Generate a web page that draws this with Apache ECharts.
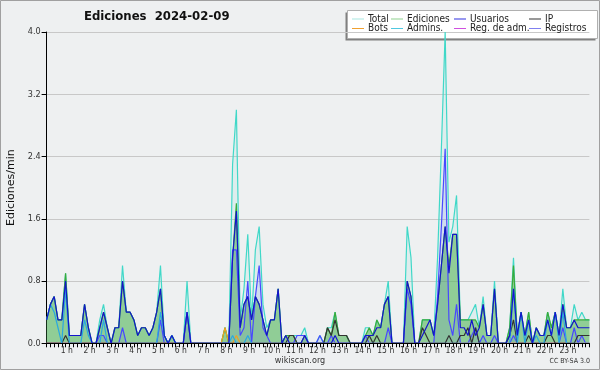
<!DOCTYPE html>
<html>
<head>
<meta charset="utf-8">
<script src="https://cdn.jsdelivr.net/npm/echarts@6/dist/echarts.min.js"></script>
<style>
  html, body { margin: 0; padding: 0; background: #eef0f1; }
  #chart { width: 600px; height: 370px; }
</style>
</head>
<body>
<div id="chart"></div>
<script>
// tick labels for the hours (one every 6 points of 10 min)
var hourLabels = ['1 h','2 h','3 h','4 h','5 h','6 h','7 h','8 h','9 h','10 h','11 h','12 h',
                  '13 h','14 h','15 h','16 h','17 h','18 h','19 h','20 h','21 h','22 h','23 h'];

// edits per minute, one value per 10 minutes (144 points)
var total = [
  .3,.5,.6,.3,.3,.9,.1,.1,.1,.1,.5,.2,
  0,0,.3,.5,.2,0,.2,.2,1.0,.4,.4,.3,
  .1,.2,.2,.1,.2,.4,1.0,.1,0,.1,0,0,
  0,.8,0,0,0,0,0,0,0,0,0,.2,
  0,2.3,3.0,.3,.7,1.4,.3,1.2,1.5,.5,.2,.3,
  .3,.7,0,.1,.1,.1,.1,.1,.2,0,0,0,
  .1,0,.2,.2,.4,.1,.1,.1,0,0,0,0,
  .2,.2,.1,.3,.2,.5,.8,0,0,0,0,1.5,
  1.1,0,0,.3,.3,.3,.1,1.1,2.5,4.0,1.3,1.5,
  1.9,.3,.3,.3,.4,.5,.2,.6,.1,.1,.8,0,
  0,0,.2,1.1,.1,.4,.1,.4,0,.2,.1,.1,
  .4,.2,.4,.1,.7,.2,.2,.5,.3,.4,.3,.3
];
var ediciones = [
  .3,.5,.6,.3,.3,.9,.1,.1,.1,.1,.5,.2,
  0,0,.2,.4,.2,0,.2,.2,.8,.4,.4,.3,
  .1,.2,.2,.1,.2,.4,.7,.1,0,.1,0,0,
  0,.4,0,0,0,0,0,0,0,0,0,.2,
  0,1.1,1.8,.2,.5,.6,.3,.6,.5,.3,.1,.3,
  .3,.7,0,.1,.1,.1,0,0,.1,0,0,0,
  0,0,.2,.1,.4,.1,.1,.1,0,0,0,0,
  .1,.2,.1,.3,.2,.5,.6,0,0,0,0,.8,
  .6,0,0,.3,.3,.3,.1,.5,1.0,1.5,1.0,1.4,
  1.4,.3,.3,.3,.3,.3,.2,.5,.1,.1,.7,0,
  0,0,.2,1.0,.1,.4,.1,.4,0,.2,.1,.1,
  .4,.2,.4,.1,.5,.2,.2,.3,.3,.3,.3,.3
];
var usuarios = [
  .3,.5,.6,.3,.3,.8,.1,.1,.1,.1,.5,.2,
  0,0,.2,.4,.2,0,.2,.2,.8,.4,.4,.3,
  .1,.2,.2,.1,.2,.4,.7,.1,0,.1,0,0,
  0,.4,0,0,0,0,0,0,0,0,0,0,
  0,1.1,1.7,.2,.5,.6,.3,.6,.5,.3,.1,.3,
  .3,.7,0,.1,0,0,0,0,.1,0,0,0,
  0,0,0,0,.1,0,0,0,0,0,0,0,
  .1,.1,.1,.2,.2,.5,.6,0,0,0,0,.8,
  .6,0,0,.1,.2,.3,.1,.5,1.0,1.5,.9,1.4,
  1.4,.2,.2,.1,.3,.1,.2,.5,.1,.1,.7,0,
  0,0,.1,.7,.1,.4,.1,.3,0,.2,.1,.1,
  .3,.1,.4,.1,.5,.2,.2,.3,.2,.2,.2,.2
];
var ip = [
  0,0,0,0,0,.1,0,0,0,0,0,0,
  0,0,0,0,0,0,0,0,0,0,0,0,
  0,0,0,0,0,0,0,0,0,0,0,0,
  0,0,0,0,0,0,0,0,0,0,0,0,
  0,0,0,0,0,0,0,0,0,0,0,0,
  0,0,0,0,.1,.1,0,0,0,0,0,0,
  0,0,.2,.1,.3,.1,.1,.1,0,0,0,0,
  0,.1,0,.1,0,0,0,0,0,0,0,0,
  0,0,0,.2,.1,0,0,0,0,0,.1,0,
  0,.1,.1,.2,0,.2,0,0,0,0,0,0,
  0,0,.1,.3,0,0,0,.1,0,0,0,0,
  .1,.1,0,0,0,0,0,0,.1,.1,.1,.1
];
var bots = [
  0,0,0,0,0,0,0,0,0,0,0,0,
  0,0,0,0,0,0,0,0,0,0,0,0,
  0,0,0,0,0,0,0,0,0,0,0,0,
  0,0,0,0,0,0,0,0,0,0,0,.2,
  0,0,.1,0,0,0,0,0,0,0,0,0,
  0,0,0,0,0,0,0,0,0,0,0,0,
  0,0,0,0,0,0,0,0,0,0,0,0,
  0,0,0,0,0,0,0,0,0,0,0,0,
  0,0,0,0,0,0,0,0,0,0,0,0,
  0,0,0,0,0,0,0,0,0,0,0,0,
  0,0,0,0,0,0,0,0,0,0,0,0,
  0,0,0,0,0,0,0,0,0,0,0,0
];
var admins = [
  .3,.5,.4,.2,0,.7,0,0,0,0,.3,.1,
  0,0,0,.3,0,0,0,0,0,0,0,0,
  0,0,0,0,0,0,.4,.1,0,.1,0,0,
  0,0,0,0,0,0,0,0,0,0,0,0,
  0,.1,0,0,0,.1,0,0,0,0,0,0,
  0,0,0,0,0,0,0,0,0,0,0,0,
  0,0,0,0,0,0,0,0,0,0,0,0,
  0,0,0,0,0,0,0,0,0,0,0,0,
  0,0,0,0,0,0,0,0,0,0,0,0,
  0,0,0,0,0,0,0,0,0,0,0,0,
  0,0,0,.7,0,.4,0,.3,0,.1,0,0,
  .3,.1,.4,0,.4,0,0,0,0,0,0,0
];
var regAdm = [
  0,0,0,0,0,0,0,0,0,0,0,0,
  0,0,0,0,0,0,0,0,0,0,0,0,
  0,0,0,0,0,0,0,0,0,0,0,0,
  0,0,0,0,0,0,0,0,0,0,0,0,
  0,0,0,0,0,0,0,0,0,0,0,0,
  0,0,0,0,0,0,0,0,0,0,0,0,
  0,0,0,0,0,0,0,0,0,0,0,0,
  0,0,0,0,0,0,0,0,0,0,0,0,
  0,0,0,0,0,0,0,0,0,0,0,0,
  0,0,0,0,0,0,0,0,0,0,0,0,
  0,0,0,0,0,0,0,0,0,0,0,0,
  0,0,0,0,0,0,0,0,0,0,0,0
];
var registros = [
  0,0,0,0,0,0,0,0,0,0,0,0,
  0,0,.1,.1,0,0,0,0,.2,0,0,0,
  0,0,0,0,0,0,.3,0,0,0,0,0,
  0,.4,0,0,0,0,0,0,0,0,0,0,
  0,1.2,1.2,.1,.2,.8,0,.6,1.0,.2,.1,0,
  0,0,0,0,0,0,.1,.1,.1,0,0,0,
  .1,0,0,.1,0,0,0,0,0,0,0,0,
  .1,0,0,0,0,0,.2,0,0,0,0,.7,
  .5,0,0,0,0,0,0,.6,1.5,2.5,.3,.1,
  .5,0,0,0,.1,.2,0,.1,0,0,.1,0,
  0,0,0,.1,0,0,0,0,0,0,0,0,
  0,0,0,0,.2,0,0,.2,0,.1,0,0
];

var font = "'DejaVu Sans Condensed', 'DejaVu Sans', sans-serif";

// one category per 10 minutes
var times = [];
for (var i = 0; i < total.length; i++) {
    var h = Math.floor(i / 6), m = (i % 6) * 10;
    times.push((h < 10 ? '0' : '') + h + ':' + (m < 10 ? '0' : '') + m);
}

function lineSeries(name, data, color, extra) {
    var s = {
        name: name,
        type: 'line',
        data: data,
        showSymbol: false,
        symbol: 'none',
        lineStyle: { color: color, width: 1.2 },
        itemStyle: { color: color }
    };
    for (var k in extra) s[k] = extra[k];
    return s;
}

// legend: one small legend per cell, 4 columns x 2 rows
var legendCells = [
    ['Total', 352, 14, '#a8e6e0'],
    ['Ediciones', 391, 14, '#8fd08f'],
    ['Usuarios', 454, 14, '#3030e0'],
    ['IP', 529, 14, '#333333'],
    ['Bots', 352, 23.5, '#f0a030'],
    ['Admins.', 391, 23.5, '#50c8e0'],
    ['Reg. de adm.', 454, 23.5, '#d050e0'],
    ['Registros', 529, 23.5, '#8080f0']
];
var legends = legendCells.map(function(c) {
    return {
        left: c[1], top: c[2],
        icon: 'rect', itemWidth: 12, itemHeight: 1, itemGap: 0,
        padding: 0, selectedMode: false,
        data: [{ name: c[0], itemStyle: { color: c[3] } }],
        textStyle: { fontFamily: font, fontSize: 10, color: '#222', lineHeight: 10, padding: [0, 0, 0, -1] }
    };
});

var chart = echarts.init(document.getElementById('chart'), null, { renderer: 'canvas' });
var option = {
    animation: false,
    backgroundColor: '#eef0f1',
    title: {
        text: 'Ediciones  2024-02-09',
        left: 84, top: 10, padding: 0,
        textStyle: { fontFamily: font, fontSize: 13, fontWeight: 'bold', color: '#111' }
    },
    legend: legends,
    grid: { left: 46.6, right: 10.6, top: 32, bottom: 26.7, containLabel: false, outerBoundsMode: 'none' },
    xAxis: {
        type: 'category',
        data: times,
        boundaryGap: false,
        z: 10,
        axisLine: { lineStyle: { color: '#000', width: 1 } },
        axisTick: { interval: 0, length: 4, lineStyle: { color: '#000' } },
        axisLabel: {
            interval: function(index) { return index > 0 && index % 6 === 0; },
            formatter: function(value, index) { return hourLabels[index / 6 - 1]; },
            fontFamily: font, fontSize: 8.5, color: '#333', margin: 3,
            padding: [0, 5, 0, 0]
        },
        splitLine: { show: false }
    },
    yAxis: {
        type: 'value',
        min: 0, max: 4, interval: 0.8,
        name: 'Ediciones/min',
        nameLocation: 'middle',
        nameGap: 30,
        nameTextStyle: { fontFamily: 'DejaVu Sans', fontSize: 11, color: '#111' },
        axisLine: { show: true, lineStyle: { color: '#000' } },
        axisTick: { show: true, length: 5, lineStyle: { color: '#000' } },
        axisLabel: {
            formatter: function(v) { return v.toFixed(1); },
            fontFamily: font, fontSize: 9, color: '#333', margin: 6
        },
        splitLine: { lineStyle: { color: '#c8c8c8', width: 1 } }
    },
    series: [
        lineSeries('Total', total, '#40d8c8', { areaStyle: { color: 'rgba(64,216,200,0.13)' } }),
        lineSeries('Ediciones', ediciones, '#3aaa3a', { areaStyle: { color: '#5cb85c', opacity: 0.6 } }),
        lineSeries('Registros', registros, '#4848ff', { areaStyle: { color: 'rgba(60,60,255,0.12)' } }),
        lineSeries('Reg. de adm.', regAdm, '#d050e0'),
        lineSeries('Bots', bots, '#f0a020'),
        lineSeries('IP', ip, '#333333'),
        lineSeries('Admins.', admins, '#2aa8e0'),
        lineSeries('Usuarios', usuarios, '#1414cc')
    ],
    graphic: [
        { type: 'rect', z: -1, shape: { x: 0.5, y: 0.5, width: 599, height: 369 },
          style: { fill: null, stroke: '#a0a0a0', lineWidth: 1 } },
        { type: 'rect', z: 0, shape: { x: 345.5, y: 12.5, width: 250, height: 28 },
          style: { fill: '#808080' } },
        { type: 'rect', z: 0, shape: { x: 347.5, y: 10.5, width: 250, height: 28 },
          style: { fill: '#fff', stroke: '#b0b0b0', lineWidth: 1 } },
        { type: 'text', left: 'center', top: 356,
          style: { text: 'wikiscan.org', fontFamily: font, fontSize: 9, fill: '#333' } },
        { type: 'text', right: 10, top: 358,
          style: { text: 'CC BY-SA 3.0', fontFamily: font, fontSize: 7, fill: '#333' } }
    ]
};
chart.setOption(option);
</script>
</body>
</html>
